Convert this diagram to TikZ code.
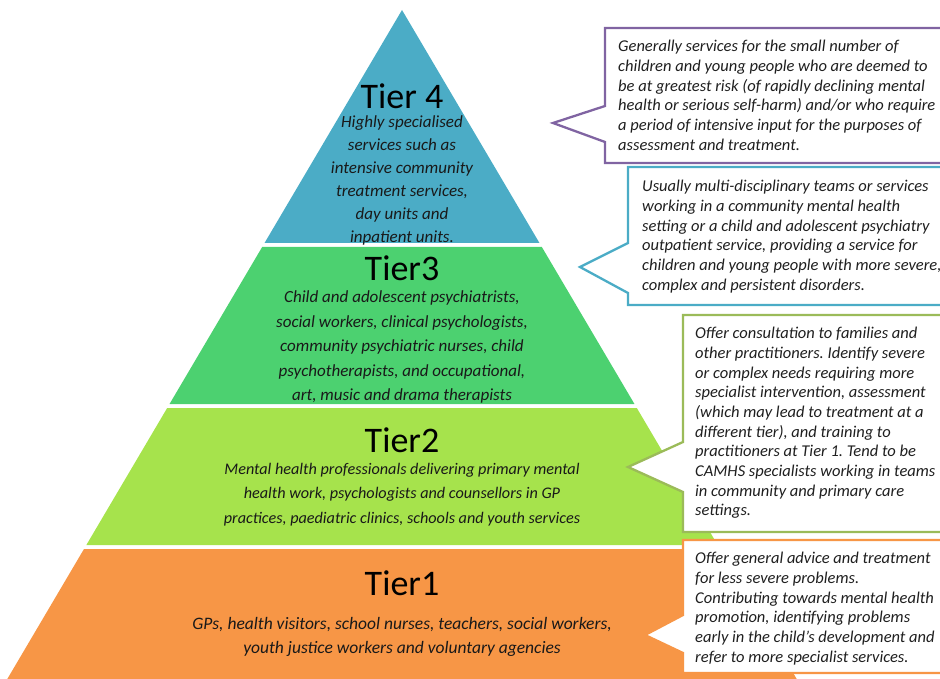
\documentclass[tikz,border=0pt]{standalone}
\usepackage{fontspec}
\setmainfont{Carlito}
\usepackage{tikz}
\usetikzlibrary{positioning}
\frenchspacing
\definecolor{tierfour}{HTML}{4BACC6}
\definecolor{tierthree}{HTML}{4CD170}
\definecolor{tiertwo}{HTML}{A6E34C}
\definecolor{tierone}{HTML}{F79646}
\definecolor{notepurple}{HTML}{8064A2}
\definecolor{noteblue}{HTML}{4BACC6}
\definecolor{notegreen}{HTML}{9BBB59}
\definecolor{noteorange}{HTML}{F79646}
\tikzset{%
	tiertitle/.style = {font=\fontsize{36}{38}\selectfont, text=black, inner sep=0pt},
	tiertext/.style  = {font=\itshape\fontsize{17}{24.5}\selectfont, align=center, text=black!90, inner sep=0pt},
	notetext/.style  = {font=\itshape\fontsize{16.5}{19.7}\selectfont, align=left, text=black!88, anchor=north west, inner sep=0pt},
	notebox/.style   = {line width=2.3pt, fill=white, line join=miter},
}

\begin{document}
\begin{tikzpicture}[x=1pt,y=-1pt]
	\useasboundingbox (0,0) rectangle (940,679);
	\clip (0,0) rectangle (940,679);
	
	\foreach \ytop/\ybot/\tiercol in {10/243/tierfour,247/404/tierthree,408/545/tiertwo,549/690/tierone}
		\fill[\tiercol] ({402-0.59*(\ytop-10)},\ytop) -- ({402+0.59*(\ytop-10)},\ytop) -- ({402+0.59*(\ybot-10)},\ybot) -- ({402-0.59*(\ybot-10)},\ybot) -- cycle;
	
	\node[tiertitle] (t4title) at (402,96) {Tier 4};
	\node[tiertext, font=\itshape\fontsize{17}{23}\selectfont, below=7pt of t4title] (t4text) {Highly specialised\\services such as\\intensive community\\treatment services,\\day units and\\inpatient units.};
	
	\node[tiertitle] (t3title) at (402,268) {Tier3};
	\node[tiertext, below=10pt of t3title] (t3text) {Child and adolescent psychiatrists,\\social workers, clinical psychologists,\\community psychiatric nurses, child\\psychotherapists, and occupational,\\art, music and drama therapists};
	
	\node[tiertitle] (t2title) at (402,440) {Tier2};
	\node[tiertext, font=\itshape\fontsize{16.2}{24.5}\selectfont, below=10pt of t2title] (t2text) {Mental health professionals delivering primary mental\\health work, psychologists and counsellors in GP\\practices, paediatric clinics, schools and youth services};
	
	\node[tiertitle] (t1title) at (402,583) {Tier1};
	\node[tiertext, font=\itshape\fontsize{17.5}{24.5}\selectfont, below=21pt of t1title] (t1text) {GPs, health visitors, school nurses, teachers, social workers,\\youth justice workers and voluntary agencies};
	
	% callouts
	\draw[notebox, draw=notepurple] (605,28) -- (950,28) -- (950,163) -- (605,163) -- (605,142) -- (553,123) -- (605,106) -- cycle;
	\node[notetext] (n4text) at (618,40) {Generally services for the small number of\\children and young people who are deemed to\\be at greatest risk (of rapidly declining mental\\health or serious self-harm) and/or who require\\a period of intensive input for the purposes of\\assessment and treatment.};
	
	\draw[notebox, draw=noteblue] (628,167) -- (950,167) -- (950,305) -- (628,305) -- (628,293) -- (580,267) -- (628,243) -- cycle;
	\node[notetext] (n3text) at (642,180) {Usually multi-disciplinary teams or services\\working in a community mental health\\setting or a child and adolescent psychiatry\\outpatient service, providing a service for\\children and young people with more severe,\\complex and persistent disorders.};
	
	\draw[notebox, draw=notegreen] (683,315) -- (950,315) -- (950,532) -- (683,532) -- (683,492) -- (628,467) -- (683,442) -- cycle;
	\node[notetext] (n2text) at (695,327) {Offer consultation to families and\\other practitioners. Identify severe\\or complex needs requiring more\\specialist intervention, assessment\\(which may lead to treatment at a\\different tier), and training to\\practitioners at Tier 1. Tend to be\\CAMHS specialists working in teams\\in community and primary care\\settings.};
	
	\draw[notebox, draw=noteorange] (683,540) -- (950,540) -- (950,673) -- (683,673) -- (683,653) -- (645,635) -- (683,615) -- cycle;
	\node[notetext] (n1text) at (695,552) {Offer general advice and treatment\\for less severe problems.\\Contributing towards mental health\\promotion, identifying problems\\early in the child’s development and\\refer to more specialist services.};
\end{tikzpicture}
\end{document}
